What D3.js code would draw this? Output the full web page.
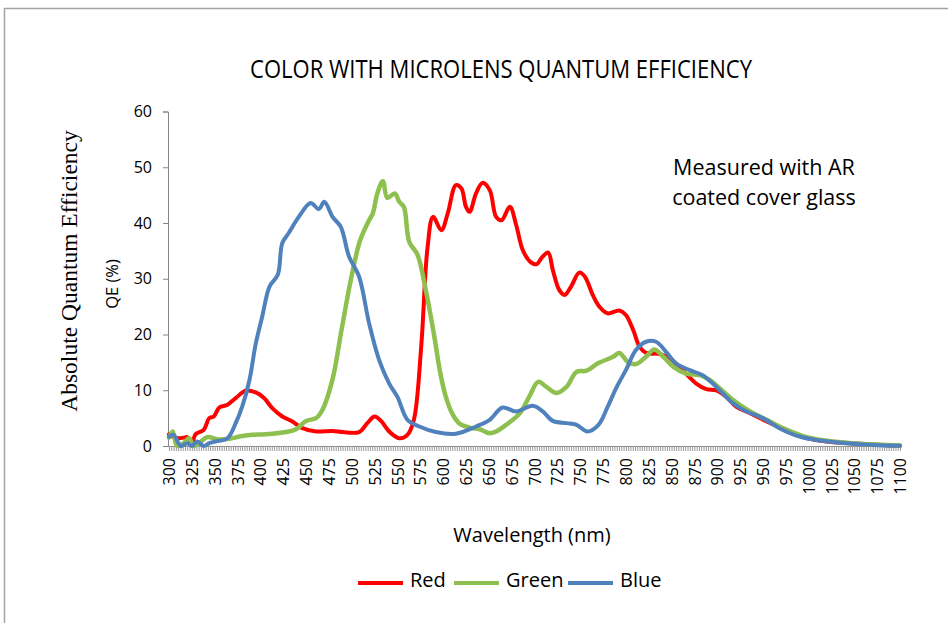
<!DOCTYPE html>
<html>
<head>
<meta charset="utf-8">
<script src="https://cdn.jsdelivr.net/npm/d3@7"></script>
<style>
  body { margin: 0; background: #fff; }
  .chart-text { font-family: "Open Sans", sans-serif; fill: #000; }
</style>
</head>
<body>
<div class="chart"></div>
<script>
// Series: [wavelength nm, QE %]
var red_data = [[300,2.1],[305,1.6],[311,1.4],[316,1.5],[320,1.6],[325,0.5],[329,2.1],[338,2.9],[344,5.0],[349,5.3],
  [355,6.9],[364,7.4],[373,8.6],[384,9.9],[395,9.6],[404,8.6],[413,6.8],[424,5.3],[435,4.4],[446,3.2],[461,2.6],
  [479,2.7],[490,2.5],[508,2.5],[517,4.1],[525,5.3],[532,4.5],[541,2.6],[552,1.4],[561,2.0],[568,4.7],[576,17.8],
  [583,35.7],[589,41.1],[598,38.7],[605,41.7],[614,46.8],[620,46.2],[625,42.9],[629,42.0],[636,45.3],[643,47.2],
  [651,45.9],[658,41.1],[664,40.5],[673,42.9],[680,39.6],[687,35.2],[695,33.1],[702,32.6],[709,34.0],[715,34.7],
  [720,31.6],[727,28.0],[733,27.1],[740,28.6],[749,31.1],[755,30.4],[764,27.0],[771,25.0],[780,23.8],[793,24.3],
  [800,23.5],[808,20.8],[815,17.8],[822,16.7],[837,16.5],[848,15.7],[862,13.6],[877,11.2],[888,10.2],[899,10.0],
  [910,8.8],[921,7.0],[936,5.9],[954,4.4],[976,2.9],[998,1.4],[1020,0.8],[1056,0.4],[1100,0.05]];

var green_data = [[300,1.5],[304,2.6],[309,0],[316,0.5],[322,1.4],[327,0],[333,0.5],[342,1.6],[353,1.2],[366,1.3],
  [377,1.7],[391,2.0],[406,2.1],[428,2.5],[439,3.0],[450,4.5],[461,5.0],[468,6.5],[479,12.0],[489,21.0],[499,29.8],
  [509,36.8],[519,40.5],[523,41.7],[528,45.3],[534,47.5],[539,44.5],[547,45.3],[552,43.8],[557,42.9],[563,36.6],
  [572,34.3],[581,28.0],[590,20.0],[597,13.0],[603,8.8],[610,5.8],[618,4.0],[629,3.3],[640,3.0],[651,2.3],[658,2.6],
  [669,3.8],[684,5.9],[695,9.1],[704,11.5],[713,10.6],[724,9.5],[735,10.6],[746,13.3],[757,13.5],[769,14.8],
  [786,16.0],[793,16.7],[802,15.1],[811,14.7],[822,16.0],[831,17.3],[841,16.0],[852,14.2],[866,13.0],[881,12.7],
  [892,11.8],[903,10.3],[917,8.3],[936,6.2],[954,4.7],[976,2.9],[998,1.6],[1027,0.8],[1056,0.4],[1100,0.1]];

var blue_data = [[300,1.7],[305,2.0],[313,0],[320,0.5],[325,0],[331,0.8],[338,0],[344,0.5],[351,0.8],[364,1.4],
  [373,4.1],[380,7.0],[388,11.8],[395,18.4],[402,23.2],[410,28.6],[419,30.7],[424,36.4],[431,38.2],[442,41.1],
  [455,43.6],[464,42.5],[470,43.8],[479,41.1],[488,39.3],[497,34.0],[508,30.4],[519,22.0],[530,15.4],[541,11.2],
  [550,8.8],[561,4.7],[574,3.5],[592,2.5],[614,2.2],[636,3.5],[651,4.7],[665,6.9],[680,6.2],[698,7.2],[709,6.2],
  [720,4.5],[735,4.1],[746,3.8],[758,2.6],[770,3.8],[780,7.0],[790,10.6],[800,13.6],[811,17.2],[822,18.7],
  [833,18.7],[844,16.9],[855,14.8],[870,13.6],[884,12.7],[899,10.6],[917,7.7],[932,6.2],[950,5.0],[968,3.2],
  [990,1.7],[1012,1.0],[1042,0.5],[1071,0.2],[1100,0.05]];

var series_names = ["Red", "Green", "Blue"];
var series_colors = ["#ff0000", "#8dc04f", "#4f81bd"];
var series_widths = [4, 4.5, 4];
var series_data = [red_data, green_data, blue_data];

var y_ticks = [0, 10, 20, 30, 40, 50, 60];
var x_label_ticks = d3.range(300, 1101, 25);   // labelled every 25 nm
var x_minor_ticks = d3.range(300, 1101, 2.5);  // small tick marks

var CHART_TITLE = "COLOR WITH MICROLENS QUANTUM EFFICIENCY";
var NOTE_LINES = ["Measured with AR", "coated cover glass"];

// Page size and plot box
var W = 948, H = 623;
var PLOT_LEFT = 169, PLOT_RIGHT = 900, PLOT_TOP = 111.5, PLOT_BOTTOM = 446;

var svg = d3.select(".chart").append("svg")
    .attr("width", W)
    .attr("height", H);

// Outer frame (runs off the right and bottom edges)
svg.append("rect")
    .attr("x", 4.5).attr("y", 8.5)
    .attr("width", 1000).attr("height", 700)
    .attr("fill", "none")
    .attr("stroke", "#a3a3a3")
    .attr("stroke-width", 1.5);

var x = d3.scaleLinear().domain([300, 1100]).range([PLOT_LEFT, PLOT_RIGHT]);
var y = d3.scaleLinear().domain([0, 60]).range([PLOT_BOTTOM, PLOT_TOP]);

// Y axis
var y_axis = svg.append("g")
    .attr("transform", "translate(" + (PLOT_LEFT - 1) + ",0)")
    .call(d3.axisLeft(y).tickValues(y_ticks).tickSize(5).tickPadding(11));
y_axis.select(".domain").attr("stroke", "#868686");
y_axis.selectAll(".tick line").attr("stroke", "#868686");
y_axis.selectAll(".tick text")
    .attr("class", "chart-text")
    .style("font-size", "16px");

// X axis: minor tick marks
var x_minor = svg.append("g")
    .attr("transform", "translate(0," + PLOT_BOTTOM + ")")
    .call(d3.axisBottom(x).tickValues(x_minor_ticks).tickSize(5).tickFormat(""));
x_minor.select(".domain").attr("stroke", "#868686").attr("d", "M" + (PLOT_LEFT - 1) + ",0.5H" + (PLOT_RIGHT + 2));
x_minor.selectAll(".tick line").attr("stroke", "#9a9a9a");

// X axis: rotated labels
var x_labels = svg.append("g")
    .attr("transform", "translate(0," + PLOT_BOTTOM + ")")
    .call(d3.axisBottom(x).tickValues(x_label_ticks).tickSize(0).tickFormat(d3.format("d")));
x_labels.select(".domain").remove();
x_labels.selectAll(".tick text")
    .attr("class", "chart-text")
    .style("font-size", "16px")
    .attr("text-anchor", "end")
    .attr("dy", "0.35em")
    .attr("transform", "translate(0,12) rotate(-90)")
    .attr("x", 0).attr("y", 0);

// Lines
var line = d3.line()
    .x(function (d) { return x(d[0]); })
    .y(function (d) { return y(d[1]); })
    .curve(d3.curveCatmullRom.alpha(0.5));

for (var i = 0; i < series_data.length; i++) {
    svg.append("path")
        .datum(series_data[i])
        .attr("d", line)
        .attr("fill", "none")
        .attr("stroke", series_colors[i])
        .attr("stroke-width", series_widths[i])
        .attr("stroke-linejoin", "round")
        .attr("stroke-linecap", "round");
}

// Title
svg.append("text")
    .attr("class", "chart-text")
    .attr("x", 501).attr("y", 78)
    .attr("text-anchor", "middle")
    .attr("textLength", 502)
    .attr("lengthAdjust", "spacingAndGlyphs")
    .style("font-size", "25px")
    .text(CHART_TITLE);

// Axis titles
svg.append("text")
    .attr("transform", "translate(77,271) rotate(-90)")
    .attr("text-anchor", "middle")
    .style("font-family", "'Liberation Serif', 'Times New Roman', serif")
    .style("font-size", "23.5px")
    .text("Absolute Quantum Efficiency");

svg.append("text")
    .attr("class", "chart-text")
    .attr("transform", "translate(118,284) rotate(-90)")
    .attr("text-anchor", "middle")
    .style("font-size", "16.5px")
    .text("QE (%)");

svg.append("text")
    .attr("class", "chart-text")
    .attr("x", 532).attr("y", 542)
    .attr("text-anchor", "middle")
    .style("font-size", "20px")
    .text("Wavelength (nm)");

// Note in the plot
svg.selectAll(".note")
    .data(NOTE_LINES)
    .enter().append("text")
    .attr("class", "chart-text note")
    .attr("x", 764)
    .attr("y", function (d, j) { return 175 + j * 30; })
    .attr("text-anchor", "middle")
    .style("font-size", "21.5px")
    .text(function (d) { return d; });

// Legend
var legend_x = [358, 454, 568];
var legend = svg.selectAll(".legend-item")
    .data(series_names)
    .enter().append("g")
    .attr("class", "legend-item")
    .attr("transform", function (d, j) { return "translate(" + legend_x[j] + ",583)"; });
legend.append("line")
    .attr("x1", 0).attr("x2", 45)
    .attr("y1", 0).attr("y2", 0)
    .attr("stroke", function (d, j) { return series_colors[j]; })
    .attr("stroke-width", 4);
legend.append("text")
    .attr("class", "chart-text")
    .attr("x", 52).attr("y", 4)
    .style("font-size", "20px")
    .text(function (d) { return d; });
</script>
</body>
</html>
